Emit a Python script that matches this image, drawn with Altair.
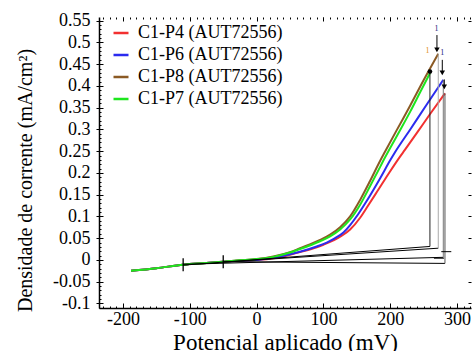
import altair as alt
import pandas as pd

FONT = "Liberation Serif"

names = ["C1-P4 (AUT72556)", "C1-P6 (AUT72556)", "C1-P8 (AUT72556)", "C1-P7 (AUT72556)"]
colors = ["#f23030", "#2b2bef", "#8b5a24", "#1ee61e"]

p4_x = [-188, -150, -110, -75, -50, -25, 0, 25, 50, 65, 90, 100, 115, 127, 140, 155, 167, 180, 200, 214.5, 222, 240, 260, 282]
p4_y = [-0.025, -0.019, -0.011, -0.007, -0.004, -0.002, 0.0, 0.004, 0.012, 0.018, 0.029, 0.035, 0.045, 0.055, 0.070, 0.097, 0.125, 0.156, 0.204, 0.237, 0.253, 0.292, 0.336, 0.383]

p6_x = [-188, -150, -110, -75, -50, -25, 0, 25, 50, 65, 90, 105, 115, 130, 140, 152, 165, 185, 200, 207, 230, 255, 279.5]
p6_y = [-0.025, -0.019, -0.011, -0.007, -0.004, -0.002, 0.0, 0.005, 0.013, 0.019, 0.031, 0.040, 0.048, 0.063, 0.080, 0.105, 0.136, 0.188, 0.229, 0.247, 0.300, 0.358, 0.414]

p8_x = [-188, -150, -110, -75, -50, -25, 0, 25, 50, 65, 95, 110, 125, 140, 155, 170, 185, 192, 210, 230, 250, 272]
p8_y = [-0.025, -0.019, -0.011, -0.007, -0.004, -0.001, 0.002, 0.008, 0.018, 0.027, 0.046, 0.058, 0.075, 0.1, 0.138, 0.182, 0.228, 0.248, 0.299, 0.355, 0.413, 0.474]

p7_x = [-188, -150, -110, -75, -50, -25, 0, 25, 50, 65, 95, 110, 125, 140, 155, 170, 185, 190, 210, 230, 245, 259.5]
p7_y = [-0.025, -0.019, -0.011, -0.007, -0.004, -0.001, 0.002, 0.007, 0.017, 0.025, 0.043, 0.054, 0.070, 0.093, 0.127, 0.170, 0.214, 0.229, 0.285, 0.341, 0.386, 0.429]

# extrapolation (fit) lines: id, x, y
fit_id = ["g", "g", "b8", "b8", "b6", "b6", "r4", "r4"]
fit_x = [-110, 259.5, -50, 272, -110, 279.5, -50, 282]
fit_y = [-0.012, 0.031, -0.005, 0.027, -0.010, 0.006, -0.004, -0.008]

# vertical drop lines
vert_x = [259.5, 272, 279.5, 282]
vert_top = [0.429, 0.474, 0.414, 0.383]
vert_bot = [0.031, 0.027, 0.006, -0.008]
vert_col = ["#222222", "#aaaaaa", "#777777", "#555555"]

# small vertical markers on the curve
vmark_x = [-110, -50]
vmark_y = [-0.011, -0.004]
# small horizontal markers near line ends
hmark_x = [284, 273]
hmark_y = [0.019, 0.004]

# arrows at curve ends
arrow_x = [270, 278, 281]
arrow_y = [0.483, 0.43, 0.398]
stem_top = [0.517, 0.46, 0.415]
dot_x = [259.5]
dot_y = [0.433]
one_x = [269.5, 278, 256]
one_y = [0.522, 0.466, 0.47]
one_c = ["#1a237e", "#1a237e", "#e09020"]

x_ticks = [-200, -100, 0, 100, 200, 300]
y_ticks = [round(-0.1 + 0.05 * i, 2) for i in range(14)]
x_minor = list(range(-230, 321, 10))
y_minor = [round(-0.11 + 0.01 * i, 2) for i in range(67)]

X_DOMAIN = [-236, 321]
Y_DOMAIN = [-0.1105, 0.5585]

rows = []
for name, xs, ys in [(names[0], p4_x, p4_y), (names[1], p6_x, p6_y),
                     (names[2], p8_x, p8_y), (names[3], p7_x, p7_y)]:
    for i, (a, b) in enumerate(zip(xs, ys)):
        rows.append({"series": name, "x": a, "y": b, "i": i})
df = pd.DataFrame(rows)

df_fit = pd.DataFrame({"id": fit_id, "x": fit_x, "y": fit_y})
df_vert = pd.DataFrame({"x": vert_x, "y": vert_top, "y2": vert_bot, "c": vert_col})
df_vm = pd.DataFrame({"x": vmark_x, "y": vmark_y})
df_hm = pd.DataFrame({"x": hmark_x, "y": hmark_y})
df_ar = pd.DataFrame({"x": arrow_x, "y": arrow_y, "y2": stem_top})
df_dot = pd.DataFrame({"x": dot_x, "y": dot_y})
df_one = pd.DataFrame({"x": one_x, "y": one_y, "c": one_c, "t": ["1", "1", "1"]})
df_dummy = pd.DataFrame({"x": [0], "y": [0]})

xs_ = alt.Scale(domain=X_DOMAIN, nice=False, zero=False)
ys_ = alt.Scale(domain=Y_DOMAIN, nice=False, zero=False)

fix_minus = "replace(datum.label, '\u2212', '-')"

x_main = alt.Axis(values=x_ticks, format="d", labelExpr=fix_minus, labelFont=FONT,
                  labelFontSize=18, labelColor="black", labelPadding=2, ticks=False,
                  domain=True, domainColor="black", domainWidth=1.5, grid=False,
                  title="Potencial aplicado (mV)", titleFont=FONT, titleFontSize=23,
                  titleFontWeight="normal", titleColor="black",
                  titleBaseline="alphabetic", titleY=41)
y_main = alt.Axis(values=y_ticks, format="~g", labelExpr=fix_minus, labelFont=FONT,
                  labelFontSize=18, labelColor="black", labelPadding=6, ticks=True,
                  tickSize=3, tickColor="black", domain=True, domainColor="black",
                  domainWidth=1.5, grid=False,
                  title="Densidade de corrente (mA/cm\u00b2)", titleFont=FONT,
                  titleFontSize=20, titleFontWeight="normal", titleColor="black",
                  titleX=-64, titleY=163)


def tick_axis(vals, size, orient):
    return alt.Axis(values=vals, orient=orient, ticks=True, tickSize=size, offset=-size,
                    labels=False, domain=False, grid=False, title="",
                    tickColor="black", tickWidth=1)


curves = alt.Chart(df).mark_line(strokeWidth=2, interpolate="monotone").encode(
    x=alt.X("x:Q", scale=xs_, axis=x_main),
    y=alt.Y("y:Q", scale=ys_, axis=y_main),
    color=alt.Color("series:N", scale=alt.Scale(domain=names, range=colors),
                    legend=alt.Legend(title=None, orient="none", legendX=13, legendY=7,
                                      labelFont=FONT, labelFontSize=18, labelColor="black",
                                      symbolType="stroke", symbolStrokeWidth=2.5,
                                      symbolSize=225, rowPadding=4, labelOffset=8,
                                      padding=0)),
    detail="series:N",
    order="i:Q",
)

fits = alt.Chart(df_fit).mark_line(strokeWidth=1, color="black").encode(
    x=alt.X("x:Q", scale=xs_, axis=None),
    y=alt.Y("y:Q", scale=ys_, axis=None),
    detail="id:N",
)

verts = alt.Chart(df_vert).mark_rule(strokeWidth=1).encode(
    x=alt.X("x:Q", scale=xs_, axis=None),
    y=alt.Y("y:Q", scale=ys_, axis=None),
    y2="y2:Q",
    color=alt.Color("c:N", scale=None),
)

vmarks = alt.Chart(df_vm).mark_point(shape="M0,-1L0,1", size=169, strokeWidth=1.3,
                                     color="black", filled=False, opacity=1).encode(
    x=alt.X("x:Q", scale=xs_, axis=None),
    y=alt.Y("y:Q", scale=ys_, axis=None),
)

hmarks = alt.Chart(df_hm).mark_point(shape="M-1,0L1,0", size=100, strokeWidth=1,
                                     color="black", filled=False, opacity=1).encode(
    x=alt.X("x:Q", scale=xs_, axis=None),
    y=alt.Y("y:Q", scale=ys_, axis=None),
)

stems = alt.Chart(df_ar).mark_rule(strokeWidth=1, color="black").encode(
    x=alt.X("x:Q", scale=xs_, axis=None),
    y=alt.Y("y:Q", scale=ys_, axis=None),
    y2="y2:Q",
)

arrows = alt.Chart(df_ar).mark_point(shape="triangle-down", size=30, filled=True,
                                     color="black", opacity=1).encode(
    x=alt.X("x:Q", scale=xs_, axis=None),
    y=alt.Y("y:Q", scale=ys_, axis=None),
)

dots = alt.Chart(df_dot).mark_point(shape="circle", size=22, filled=True,
                                    color="black", opacity=1).encode(
    x=alt.X("x:Q", scale=xs_, axis=None),
    y=alt.Y("y:Q", scale=ys_, axis=None),
)

ones = alt.Chart(df_one).mark_text(font=FONT, fontSize=8, baseline="bottom").encode(
    x=alt.X("x:Q", scale=xs_, axis=None),
    y=alt.Y("y:Q", scale=ys_, axis=None),
    text="t:N",
    color=alt.Color("c:N", scale=None),
)

t1 = alt.Chart(df_dummy).mark_point(opacity=0).encode(
    x=alt.X("x:Q", scale=xs_, axis=tick_axis(x_ticks, 5, "bottom")),
    y=alt.Y("y:Q", scale=ys_, axis=tick_axis(y_ticks, 4, "left")),
)
t2 = alt.Chart(df_dummy).mark_point(opacity=0).encode(
    x=alt.X("x:Q", scale=xs_, axis=tick_axis(x_minor, 2, "bottom")),
    y=alt.Y("y:Q", scale=ys_, axis=tick_axis(y_minor, 2, "left")),
)
t3 = alt.Chart(df_dummy).mark_point(opacity=0).encode(
    x=alt.X("x:Q", scale=xs_, axis=tick_axis(x_minor, 2, "top")),
    y=alt.Y("y:Q", scale=ys_, axis=tick_axis(y_ticks, 3, "right")),
)
t4 = alt.Chart(df_dummy).mark_point(opacity=0).encode(
    x=alt.X("x:Q", scale=xs_, axis=tick_axis(x_ticks, 4, "top")),
    y=alt.Y("y:Q", scale=ys_, axis=None),
)

chart = alt.layer(curves, fits, verts, vmarks, hmarks, stems, arrows, dots, ones,
                  t1, t2, t3, t4).resolve_axis(
    x="independent", y="independent"
).properties(
    width=372, height=291,
    autosize=alt.AutoSizeParams(type="none"),
    padding={"left": 99, "top": 17, "right": 1, "bottom": 43},
    background="white",
).configure(
    font=FONT
).configure_axis(
    labelFont=FONT, titleFont=FONT
).configure_legend(
    labelFont=FONT
).configure_view(stroke="transparent")

chart.save("out.html", embed_options={"renderer": "svg", "actions": False})
